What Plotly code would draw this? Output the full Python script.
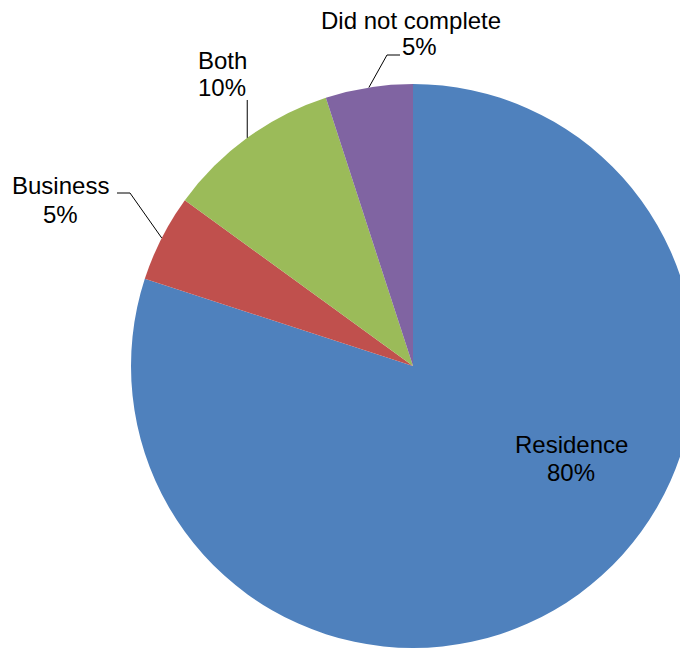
import math
import plotly.graph_objects as go

labels = ["Residence", "Business", "Both", "Did not complete"]
values = [80, 5, 10, 5]
colors = ["#4F81BD", "#C0504D", "#9BBB59", "#8064A2"]

W, H = 688, 651
dom_x = [123 / 688, 687 / 688]
dom_y = [11 / 651, 575 / 651]

# pie geometry in figure pixels (margins 0)
cx = (dom_x[0] + dom_x[1]) / 2 * W
cy = (1 - (dom_y[0] + dom_y[1]) / 2) * H
r = min((dom_x[1] - dom_x[0]) * W, (dom_y[1] - dom_y[0]) * H) / 2

FONT = dict(family="Liberation Sans, Arial, sans-serif", size=24, color="black")
LINE_GAP = 28

fig = go.Figure(go.Pie(
    labels=labels,
    values=values,
    sort=False,
    direction="clockwise",
    rotation=0,
    marker=dict(colors=colors, line=dict(width=0)),
    textinfo="none",
    domain=dict(x=dom_x, y=dom_y),
    showlegend=False,
    hoverinfo="label+percent",
))


def px2paper(x, y):
    return x / W, 1 - y / H


# label layout (figure pixels): name centre, percent centre, leader elbow, leader end
label_pos = {
    "Residence": dict(name=(563, 436), pct=(563, 464), elbow=None, end=None),
    "Business": dict(name=(52, 177), pct=(52, 206), elbow=(122, 185), end=(109, 185)),
    "Both": dict(name=(214, 52), pct=(214, 80), elbow="vertical", end=92),
    "Did not complete": dict(name=(403, 12), pct=(412, 39), elbow=(379, 47), end=(392, 47)),
}

total = sum(values)
cum = 0
for lab, v in zip(labels, values):
    mid = (cum + v / 2) / total * 2 * math.pi
    cum += v
    lp = label_pos[lab]
    pct = f"{round(v / total * 100)}%"
    for txt, (x, y) in ((lab, lp["name"]), (pct, lp["pct"])):
        xp, yp = px2paper(x, y)
        fig.add_annotation(x=xp, y=yp, xref="paper", yref="paper", text=txt,
                           showarrow=False, xanchor="center", yanchor="middle",
                           font=FONT)
    if lp["elbow"] is None:
        continue
    tx = cx + r * math.sin(mid)
    ty = cy - r * math.cos(mid)
    if lp["elbow"] == "vertical":
        pts = [(tx, ty), (tx, lp["end"])]
    else:
        pts = [(tx, ty), lp["elbow"], lp["end"]]
    path = "M " + " L ".join(f"{px2paper(*p)[0]:.5f},{px2paper(*p)[1]:.5f}" for p in pts)
    fig.add_shape(type="path", path=path, xref="paper", yref="paper",
                  line=dict(color="black", width=1))

fig.update_layout(
    width=W, height=H,
    margin=dict(l=0, r=0, t=0, b=0),
    paper_bgcolor="white",
    plot_bgcolor="white",
)

fig.write_html("out.html")
